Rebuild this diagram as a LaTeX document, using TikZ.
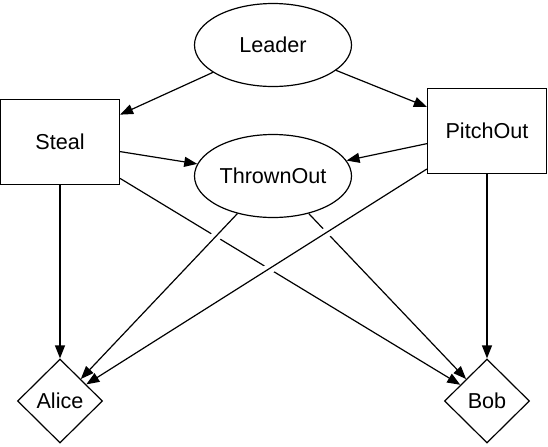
\documentclass[tikz,border=0pt]{standalone}
\usepackage{fontspec}
\setmainfont{Liberation Sans}
\usetikzlibrary{shapes.geometric, arrows.meta}
\tikzset{
	chance/.style  ={ellipse, draw=black, line width=0.6pt, minimum width=78.5pt, minimum height=41.5pt, inner sep=0pt, align=center},
	decide/.style  ={rectangle, draw=black, line width=0.6pt, minimum width=59.5pt, minimum height=42.5pt, inner sep=0pt, align=center},
	utility/.style ={diamond, aspect=1, draw=black, line width=0.6pt, minimum width=42.5pt, minimum height=42pt, inner sep=0pt, align=center},
	link/.style    ={-{Triangle[length=6.5pt, width=5pt]}, line width=0.6pt},
	% line that hops over the ones below it
	over/.style    ={link, preaction={draw=white, line width=5pt, arrows=-, shorten <=14pt, shorten >=24pt}},
}
\begin{document}
\begin{tikzpicture}[x=0.5pt, y=-0.5pt, font=\fontsize{10.8}{13}\selectfont]
	\useasboundingbox (0,0) rectangle (548,446);
	\node[chance]  (leader)  at (273,45)  {Leader};
	\node[decide]  (steal)   at (60,142)  {Steal};
	\node[decide]  (pitch)   at (487,131) {PitchOut};
	\node[chance]  (thrown)  at (273,176) {ThrownOut};
	\node[utility] (alice)   at (60,401)  {Alice};
	\node[utility] (bob)     at (487,401) {Bob};
	\draw[link] (leader) -- (steal);
	\draw[link] (leader) -- (pitch);
	\draw[link] (steal) -- (thrown);
	\draw[link] (pitch) -- (thrown);
	\draw[link] (steal) -- (alice);
	\draw[link] (pitch) -- (bob);
	\draw[link] (steal) -- (bob);
	\draw[link] (thrown) -- (bob);
	\draw[over] (thrown) -- (alice);
	\draw[over] (pitch) -- (alice);
\end{tikzpicture}
\end{document}
